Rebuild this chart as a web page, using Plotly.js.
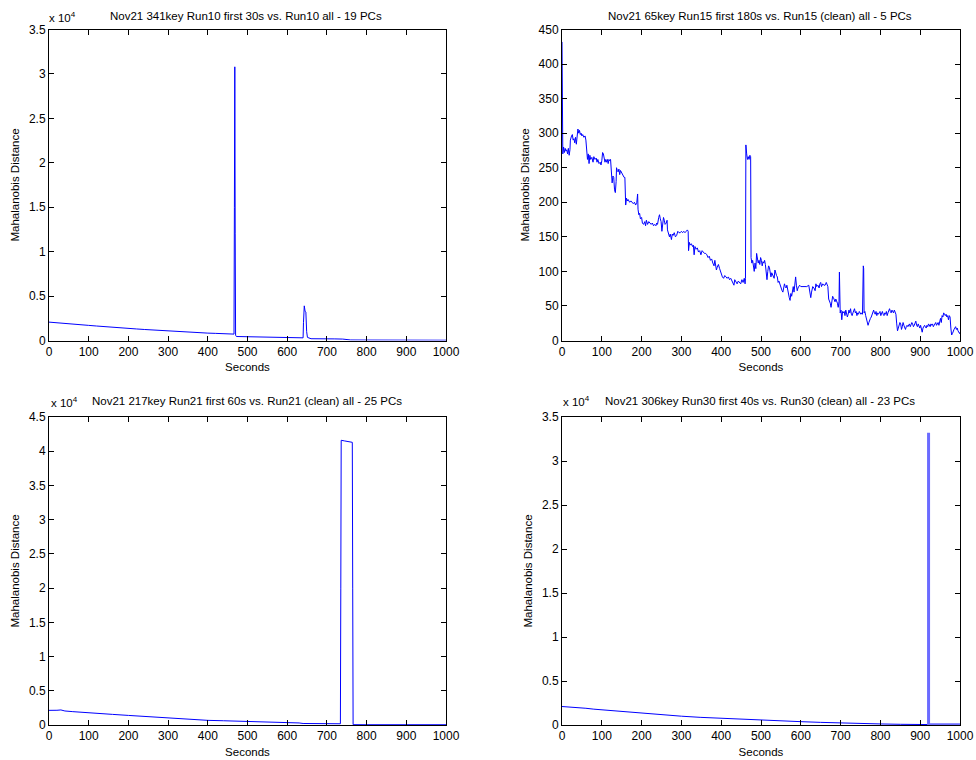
<!DOCTYPE html>
<html>
<head>
<meta charset="utf-8">
<script src="https://cdn.plot.ly/plotly-3.0.1.min.js"></script>
<style>
html,body{margin:0;padding:0;background:#fff;}
#chart{width:976px;height:760px;}
</style>
</head>
<body>
<div id="chart"></div>
<script>
// ---------- Titles / labels ----------
const titles = [
  "Nov21 341key Run10 first 30s vs. Run10 all - 19 PCs",
  "Nov21 65key Run15 first 180s vs. Run15 (clean) all - 5 PCs",
  "Nov21 217key Run21 first 60s vs. Run21 (clean) all - 25 PCs",
  "Nov21 306key Run30 first 40s vs. Run30 (clean) all - 23 PCs"
];
const xLabel = "Seconds";
const yLabel = "Mahalanobis Distance";
const xTicks = [0,100,200,300,400,500,600,700,800,900,1000];

// ---------- Panel 1 (values in units of 10^4) ----------
const run10X = [0,20,40,60,80,100,120,140,160,180,200,220,240,260,280,300,320,340,360,380,400,420,440,460,466,467,468,469,470,472,480,500,520,540,560,580,590,600,620,640,641,643,645,647,649,651,660,680,700,720,740,750,760,800,850,900,950,1000];
const run10Y = [0.207,0.198,0.19,0.185,0.178,0.17,0.163,0.158,0.15,0.143,0.135,0.13,0.124,0.118,0.113,0.107,0.1,0.097,0.092,0.088,0.083,0.08,0.077,0.074,0.072,1.5,3.08,1.2,0.06,0.045,0.044,0.043,0.042,0.041,0.04,0.038,0.036,0.031,0.03,0.03,0.2,0.39,0.33,0.32,0.1,0.035,0.02,0.022,0.02,0.018,0.016,0.012,0.006,0.005,0.004,0.004,0.003,0.003];

// ---------- Panel 2 ----------
const run15X = [0,1,2,4,6,8,10,12,14,16,18,20,21,24,26,28,30,32,34,36,38,40,42,44,46,48,50,52,55,58,60,62,64,66,68,70,72,75,78,80,83,86,88,90,93,96,98,100,102,104,106,108,110,112,114,116,118,120,122,124,126,128,130,132,134,136,137,139,141,143,145,147,150,153,156,158,159,160,162,164,166,170,173,176,179,182,185,188,190,191,193,195,197,200,202,205,208,210,212,215,218,221,224,227,230,233,236,238,240,243,245,247,249,251,253,255,257,259,262,264,265,267,270,272,275,277,279,282,285,288,291,294,297,300,303,306,309,312,315,317,318,320,322,325,328,330,332,334,337,340,343,346,349,352,355,358,361,364,367,370,373,376,379,382,384,386,388,390,393,396,398,400,403,406,409,412,415,418,421,424,427,430,432,434,437,440,443,446,449,452,455,458,460,461,462,464,466,468,470,472,474,475,477,479,481,483,485,487,489,491,493,495,497,499,501,503,505,507,509,511,513,515,517,519,521,523,525,527,529,531,533,535,537,539,541,543,545,547,549,551,553,555,557,559,561,563,565,567,569,571,573,575,577,579,581,583,585,587,589,591,593,595,597,600,605,610,615,620,622,625,627,630,633,636,638,640,643,646,648,650,652,655,658,661,664,666,668,670,672,674,676,678,680,682,684,686,688,690,692,694,696,697,699,701,703,705,707,709,711,713,715,717,719,721,723,725,727,729,731,733,735,737,739,741,743,745,747,749,751,753,755,757,758,759,761,763,765,767,769,771,773,775,777,779,781,783,785,787,789,791,793,795,797,799,801,803,805,807,809,811,813,815,817,819,821,823,825,827,829,831,833,835,837,839,841,843,845,847,849,851,853,855,857,859,861,863,865,867,869,871,873,875,877,879,881,883,885,887,889,891,893,895,897,899,901,903,905,907,909,911,913,915,917,919,921,923,925,927,929,931,933,935,937,939,941,943,945,947,949,951,953,955,957,959,961,963,965,967,969,971,973,975,977,979,981,983,985,987,989,991,993,995,997,999,1000];
const run15Y = [432,300,270,280,272,278,274,276,270,278,268,276,290,296,298,290,292,286,294,284,300,306,300,304,298,300,296,298,294,296,290,268,262,270,256,268,262,265,258,266,262,264,258,262,256,258,254,260,272,270,264,258,262,258,262,256,262,260,262,240,228,238,236,218,214,230,250,246,244,248,240,246,242,240,236,236,212,196,206,202,204,200,202,200,198,200,196,200,212,190,182,184,176,178,170,168,172,166,174,168,172,170,168,170,166,168,166,170,168,178,182,176,172,158,176,178,174,168,170,174,160,156,150,154,146,154,152,156,150,152,158,156,156,158,156,158,156,158,160,158,130,142,138,140,136,138,124,136,132,134,128,130,124,130,128,126,126,124,120,122,116,118,112,108,116,104,102,106,110,104,100,96,92,90,94,92,90,92,88,90,86,84,80,88,84,82,86,84,82,88,84,90,82,90,283,270,262,266,262,268,266,120,112,116,108,100,112,104,126,118,112,116,110,120,116,108,114,112,116,110,100,88,100,108,106,100,92,98,96,94,90,102,96,94,92,84,86,82,80,76,72,70,80,82,78,76,80,72,68,62,58,68,64,72,78,70,80,92,80,72,76,78,80,78,78,77,78,80,72,62,70,78,76,72,82,78,80,76,82,84,78,82,80,80,84,80,78,60,58,54,48,54,64,62,58,56,60,58,54,48,56,99,40,44,30,42,40,42,36,44,40,34,38,44,40,46,38,36,40,42,46,40,42,36,40,38,42,40,38,40,38,108,104,40,42,36,30,28,22,26,30,32,34,38,42,44,40,38,42,36,40,38,40,42,36,40,42,38,36,40,38,42,36,40,44,46,42,40,44,42,40,44,42,38,24,14,18,22,26,24,16,20,26,22,18,16,20,22,20,22,24,20,22,26,24,20,22,24,28,22,20,24,20,18,22,16,12,18,20,22,20,18,22,20,24,22,20,24,22,24,20,22,24,26,22,24,26,22,28,32,26,36,34,40,38,36,38,34,36,30,36,34,18,8,10,14,16,18,20,16,18,14,12,10,12];

// ---------- Panel 3 (values in units of 10^4) ----------
const run21X = [0,10,20,30,40,60,80,100,130,160,200,240,280,320,360,400,440,480,520,560,600,630,640,700,734,735,736,745,755,764,765,766,800,900,1000];
const run21Y = [0.214,0.21,0.215,0.22,0.205,0.195,0.185,0.175,0.165,0.155,0.14,0.125,0.112,0.1,0.085,0.068,0.062,0.055,0.05,0.046,0.042,0.03,0.022,0.02,0.018,2.0,4.16,4.15,4.14,4.13,2.0,0.005,0.004,0.004,0.004];

// ---------- Panel 4 (values in units of 10^4) ----------
const run30X = [0,20,40,60,80,100,140,180,220,260,300,347,400,450,500,550,600,650,700,750,800,850,900,920];
const run30Y = [0.21,0.205,0.198,0.19,0.18,0.172,0.16,0.145,0.13,0.115,0.1,0.087,0.075,0.065,0.055,0.046,0.038,0.03,0.022,0.018,0.012,0.008,0.006,0.005];
const spikeX = [921,921,921,1000];
const spikeY = [0.005,3.32,0.005,0.004];

// ---------- Layout geometry ----------
const W = 976, H = 760;
const colL = [49/W, 446/W], colR = [562/W, 960/W];
const rowT = [1-340.5/H, 1-29.5/H], rowB = [1-725/H, 1-417/H];

const blue = '#0000ff';
const tickFont = {family: 'Liberation Sans, Arial, sans-serif', size: 12, color: '#000'};
const labFont = {family: 'Liberation Sans, Arial, sans-serif', size: 11.5, color: '#000'};

function xa(domain, anchor) {
  return {domain: domain, anchor: anchor, range: [0,1000], tickvals: xTicks,
    ticks: 'inside', ticklen: 5, tickcolor: '#000', showline: true, linecolor: '#000', linewidth: 1,
    mirror: 'ticks', showgrid: false, zeroline: false, tickfont: tickFont,
    title: {text: xLabel, font: labFont, standoff: 5}, fixedrange: true};
}
function ya(domain, anchor, range, dtick) {
  return {domain: domain, anchor: anchor, range: range, dtick: dtick, tick0: 0,
    ticks: 'inside', ticklen: 5, tickcolor: '#000', showline: true, linecolor: '#000', linewidth: 1,
    mirror: 'ticks', showgrid: false, zeroline: false, tickfont: tickFont,
    title: {text: yLabel, font: labFont, standoff: 6}, fixedrange: true};
}

const traces = [
  {x: run10X, y: run10Y, xaxis: 'x', yaxis: 'y', mode: 'lines', line: {color: blue, width: 1}},
  {x: run15X, y: run15Y, xaxis: 'x2', yaxis: 'y2', mode: 'lines', line: {color: blue, width: 1}},
  {x: run21X, y: run21Y, xaxis: 'x3', yaxis: 'y3', mode: 'lines', line: {color: blue, width: 1}},
  {x: run30X, y: run30Y, xaxis: 'x4', yaxis: 'y4', mode: 'lines', line: {color: blue, width: 1}},
  {x: spikeX, y: spikeY, xaxis: 'x4', yaxis: 'y4', mode: 'lines', line: {color: '#6b6bff', width: 3}}
];

function ann(text, x, y, xanchor) {
  return {text: text, x: x/W, y: 1-y/H, xref: 'paper', yref: 'paper', showarrow: false,
    xanchor: xanchor || 'center', yanchor: 'middle', font: labFont};
}

const layout = {
  width: W, height: H, margin: {l: 0, r: 0, t: 0, b: 0},
  paper_bgcolor: '#fff', plot_bgcolor: '#fff', showlegend: false, font: labFont,
  xaxis: xa(colL, 'y'), yaxis: ya(rowT, 'x', [0,3.5], 0.5),
  xaxis2: xa(colR, 'y2'), yaxis2: ya(rowT, 'x2', [0,450], 50),
  xaxis3: xa(colL, 'y3'), yaxis3: ya(rowB, 'x3', [0,4.5], 0.5),
  xaxis4: xa(colR, 'y4'), yaxis4: ya(rowB, 'x4', [0,3.5], 0.5),
  annotations: [
    ann(titles[0], 246, 16), ann(titles[1], 760, 16),
    ann(titles[2], 247, 401), ann(titles[3], 760, 401),
    ann('x 10<sup>4</sup>', 47, 17, 'left'),
    ann('x 10<sup>4</sup>', 49, 402, 'left'),
    ann('x 10<sup>4</sup>', 561, 401, 'left')
  ]
};

Plotly.newPlot('chart', traces, layout, {staticPlot: true, displayModeBar: false});
</script>
</body>
</html>
